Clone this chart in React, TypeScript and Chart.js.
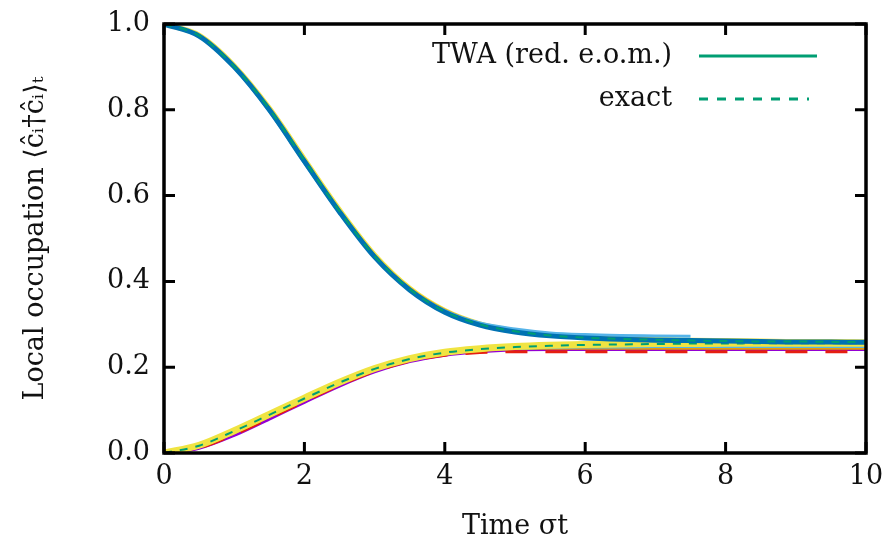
import React, { useEffect, useRef } from "react";
import { Chart, registerables } from "chart.js";

Chart.register(...registerables);

// time axis (sigma t)
const TIME = [0, 0.5, 1, 1.5, 2, 2.5, 3, 3.5, 4, 4.5, 5, 5.5, 6, 6.5, 7, 7.5, 8, 8.5, 9, 9.5, 10];

// initially occupied site (decaying curves)
const DECAY_TWA_YELLOW = [1.0, 0.974, 0.903, 0.804, 0.685, 0.567, 0.462, 0.384, 0.332, 0.301, 0.285, 0.275, 0.27, 0.267, 0.265, 0.263, 0.262, 0.261, 0.26, 0.26, 0.259];
const DECAY_TWA_ORANGE = [1.0, 0.973, 0.902, 0.803, 0.684, 0.566, 0.462, 0.385, 0.334, 0.303, 0.287, 0.277, 0.271, 0.268, 0.266, 0.264, 0.263, 0.262, 0.261, 0.261, 0.26];
const DECAY_TWA_LIGHTBLUE = [1.0, 0.972, 0.898, 0.797, 0.677, 0.56, 0.457, 0.382, 0.332, 0.303, 0.289, 0.28, 0.276, 0.274, 0.273, 0.272, null, null, null, null, null];
const DECAY_TWA_BLUE = [1.0, 0.972, 0.9, 0.8, 0.68, 0.562, 0.457, 0.38, 0.328, 0.298, 0.282, 0.273, 0.268, 0.265, 0.263, 0.262, 0.261, 0.26, 0.259, 0.259, 0.258];
const DECAY_EXACT = [1.0, 0.973, 0.901, 0.802, 0.682, 0.564, 0.459, 0.382, 0.33, 0.3, 0.284, 0.274, 0.269, 0.266, 0.264, 0.262, 0.261, 0.26, 0.26, 0.259, 0.259];

// initially empty sites (rising curves)
const RISE_TWA_YELLOW = [0, 0.018, 0.052, 0.09, 0.128, 0.165, 0.197, 0.22, 0.235, 0.243, 0.248, 0.251, 0.253, 0.254, 0.255, 0.255, 0.256, 0.256, 0.256, 0.256, 0.256];
const RISE_TWA_ORANGE = [0, 0.015, 0.048, 0.086, 0.124, 0.162, 0.194, 0.218, 0.232, 0.24, 0.244, 0.245, 0.245, 0.245, 0.245, 0.245, 0.245, 0.245, 0.245, 0.245, 0.245];
const RISE_TWA_SKYBLUE = [0, 0.016, 0.05, 0.088, 0.126, 0.163, 0.195, 0.218, 0.233, 0.24, 0.244, 0.246, 0.247, 0.247, 0.248, 0.248, 0.248, 0.248, 0.248, 0.248, 0.248];
const RISE_TWA_PURPLE = [0, 0.011, 0.041, 0.079, 0.118, 0.156, 0.189, 0.213, 0.228, 0.236, 0.24, 0.241, 0.241, 0.241, 0.241, 0.241, 0.241, 0.241, 0.241, 0.241, 0.241];
const RISE_RED = [0, 0.012, 0.043, 0.081, 0.12, 0.158, 0.19, 0.214, 0.228, 0.234, 0.236, 0.236, 0.236, 0.236, 0.236, 0.236, 0.236, 0.236, 0.236, 0.236, 0.236];
const RISE_EXACT = [0, 0.017, 0.051, 0.089, 0.127, 0.164, 0.196, 0.219, 0.234, 0.242, 0.247, 0.25, 0.252, 0.253, 0.254, 0.255, 0.255, 0.256, 0.256, 0.256, 0.256];

const X_TICKS = [0, 2, 4, 6, 8, 10];
const Y_TICKS = [0, 0.2, 0.4, 0.6, 0.8, 1.0];

const LEGEND_LABELS = ["TWA (red. e.o.m.)", "exact"];

const FONT = "'DejaVu Serif', 'Liberation Serif', serif";
const GREEN = "#009e73";

function series(data: (number | null)[], color: string, width: number, dash: number[] = []) {
  return {
    data: TIME.map((t, i) => ({ x: t, y: data[i] })),
    borderColor: color,
    borderWidth: width,
    borderDash: dash,
    pointRadius: 0,
    fill: false,
    cubicInterpolationMode: "monotone" as const,
    spanGaps: false,
  };
}

const framePlugin = {
  id: "frame",
  afterDraw(chart: any) {
    const { ctx, chartArea: a } = chart;
    const xs = chart.scales.x;
    const ys = chart.scales.y;
    ctx.save();
    ctx.strokeStyle = "#000";
    ctx.lineWidth = 3.5;
    ctx.strokeRect(a.left, a.top, a.right - a.left, a.bottom - a.top);
    const tl = 11;
    ctx.lineWidth = 3;
    ctx.beginPath();
    X_TICKS.forEach((v) => {
      const px = xs.getPixelForValue(v);
      ctx.moveTo(px, a.bottom);
      ctx.lineTo(px, a.bottom - tl);
      ctx.moveTo(px, a.top);
      ctx.lineTo(px, a.top + tl);
    });
    Y_TICKS.forEach((v) => {
      const py = ys.getPixelForValue(v);
      ctx.moveTo(a.left, py);
      ctx.lineTo(a.left + tl, py);
      ctx.moveTo(a.right, py);
      ctx.lineTo(a.right - tl, py);
    });
    ctx.stroke();

    // legend (gnuplot style: text right-aligned, sample to the right)
    ctx.font = `27px ${FONT}`;
    ctx.fillStyle = "#111";
    ctx.textAlign = "right";
    ctx.textBaseline = "middle";
    const textRight = a.right - 194;
    const x0 = a.right - 167;
    const x1 = a.right - 49;
    const rows = [a.top + 32, a.top + 75];
    ctx.fillText(LEGEND_LABELS[0], textRight, rows[0]);
    ctx.fillText(LEGEND_LABELS[1], textRight, rows[1]);
    ctx.strokeStyle = GREEN;
    ctx.lineWidth = 3;
    ctx.beginPath();
    ctx.moveTo(x0, rows[0]);
    ctx.lineTo(x1, rows[0]);
    ctx.stroke();
    ctx.setLineDash([9, 9]);
    ctx.beginPath();
    ctx.moveTo(x0, rows[1]);
    ctx.lineTo(x1 - 8, rows[1]);
    ctx.stroke();
    ctx.restore();
  },
};

export default function App() {
  const ref = useRef<HTMLCanvasElement | null>(null);
  useEffect(() => {
    if (!ref.current) return;
    // Chart.js paints dataset 0 last (on top), so the topmost lines come first
    const chart = new Chart(ref.current, {
      type: "line",
      data: {
        datasets: [
          series(DECAY_EXACT, GREEN, 2, [8, 8]),
          series(DECAY_TWA_BLUE, "#0072b2", 5),
          series(DECAY_TWA_LIGHTBLUE, "#56b4e9", 3),
          series(DECAY_TWA_ORANGE, "#e69f00", 2),
          series(DECAY_TWA_YELLOW, "#f0e442", 5),
          series(RISE_EXACT, GREEN, 2, [8, 8]),
          series(RISE_TWA_YELLOW, "#f0e442", 7),
          series(RISE_TWA_SKYBLUE, "#56b4e9", 3),
          series(RISE_TWA_ORANGE, "#e69f00", 3.5),
          series(RISE_RED, "#e51e10", 3, [22, 18]),
          series(RISE_TWA_PURPLE, "#9400d3", 3),
        ] as any,
      },
      options: {
        animation: false,
        responsive: true,
        maintainAspectRatio: false,
        layout: { padding: { left: 0, right: 21, top: 24, bottom: 0 } },
        plugins: { legend: { display: false }, tooltip: { enabled: false } },
        scales: {
          x: {
            type: "linear",
            min: 0,
            max: 10,
            afterBuildTicks: (scale: any) => {
              scale.ticks = X_TICKS.map((v) => ({ value: v }));
            },
            afterFit: (scale: any) => {
              scale.height = 90;
              scale.paddingLeft = 0;
              scale.paddingRight = 0;
            },
            grid: { display: false, drawTicks: false },
            border: { display: false },
            ticks: {
              color: "#111",
              font: { family: FONT, size: 27 },
              padding: 8,
              callback: (v: any) => String(v),
            },
            title: {
              display: true,
              text: "Time σt",
              color: "#111",
              font: { family: FONT, size: 27 },
              padding: { top: 0, bottom: 0 },
            },
          },
          y: {
            type: "linear",
            min: 0,
            max: 1,
            afterBuildTicks: (scale: any) => {
              scale.ticks = Y_TICKS.map((v) => ({ value: v }));
            },
            afterFit: (scale: any) => {
              scale.width = 164;
              scale.paddingTop = 0;
              scale.paddingBottom = 0;
            },
            grid: { display: false, drawTicks: false },
            border: { display: false },
            ticks: {
              color: "#111",
              font: { family: FONT, size: 27 },
              padding: 14,
              callback: (v: any) => Number(v).toFixed(1),
            },
            title: {
              display: true,
              text: "Local occupation ⟨ĉᵢ†ĉᵢ⟩ₜ",
              color: "#111",
              font: { family: FONT, size: 27 },
              padding: { top: 20, bottom: 0 },
            },
          },
        },
      },
      plugins: [framePlugin],
    });
    return () => chart.destroy();
  }, []);
  return (
    <div style={{ position: "fixed", left: 0, top: 0, width: 887, height: 543, background: "#fff" }}>
      <canvas ref={ref} />
    </div>
  );
}
